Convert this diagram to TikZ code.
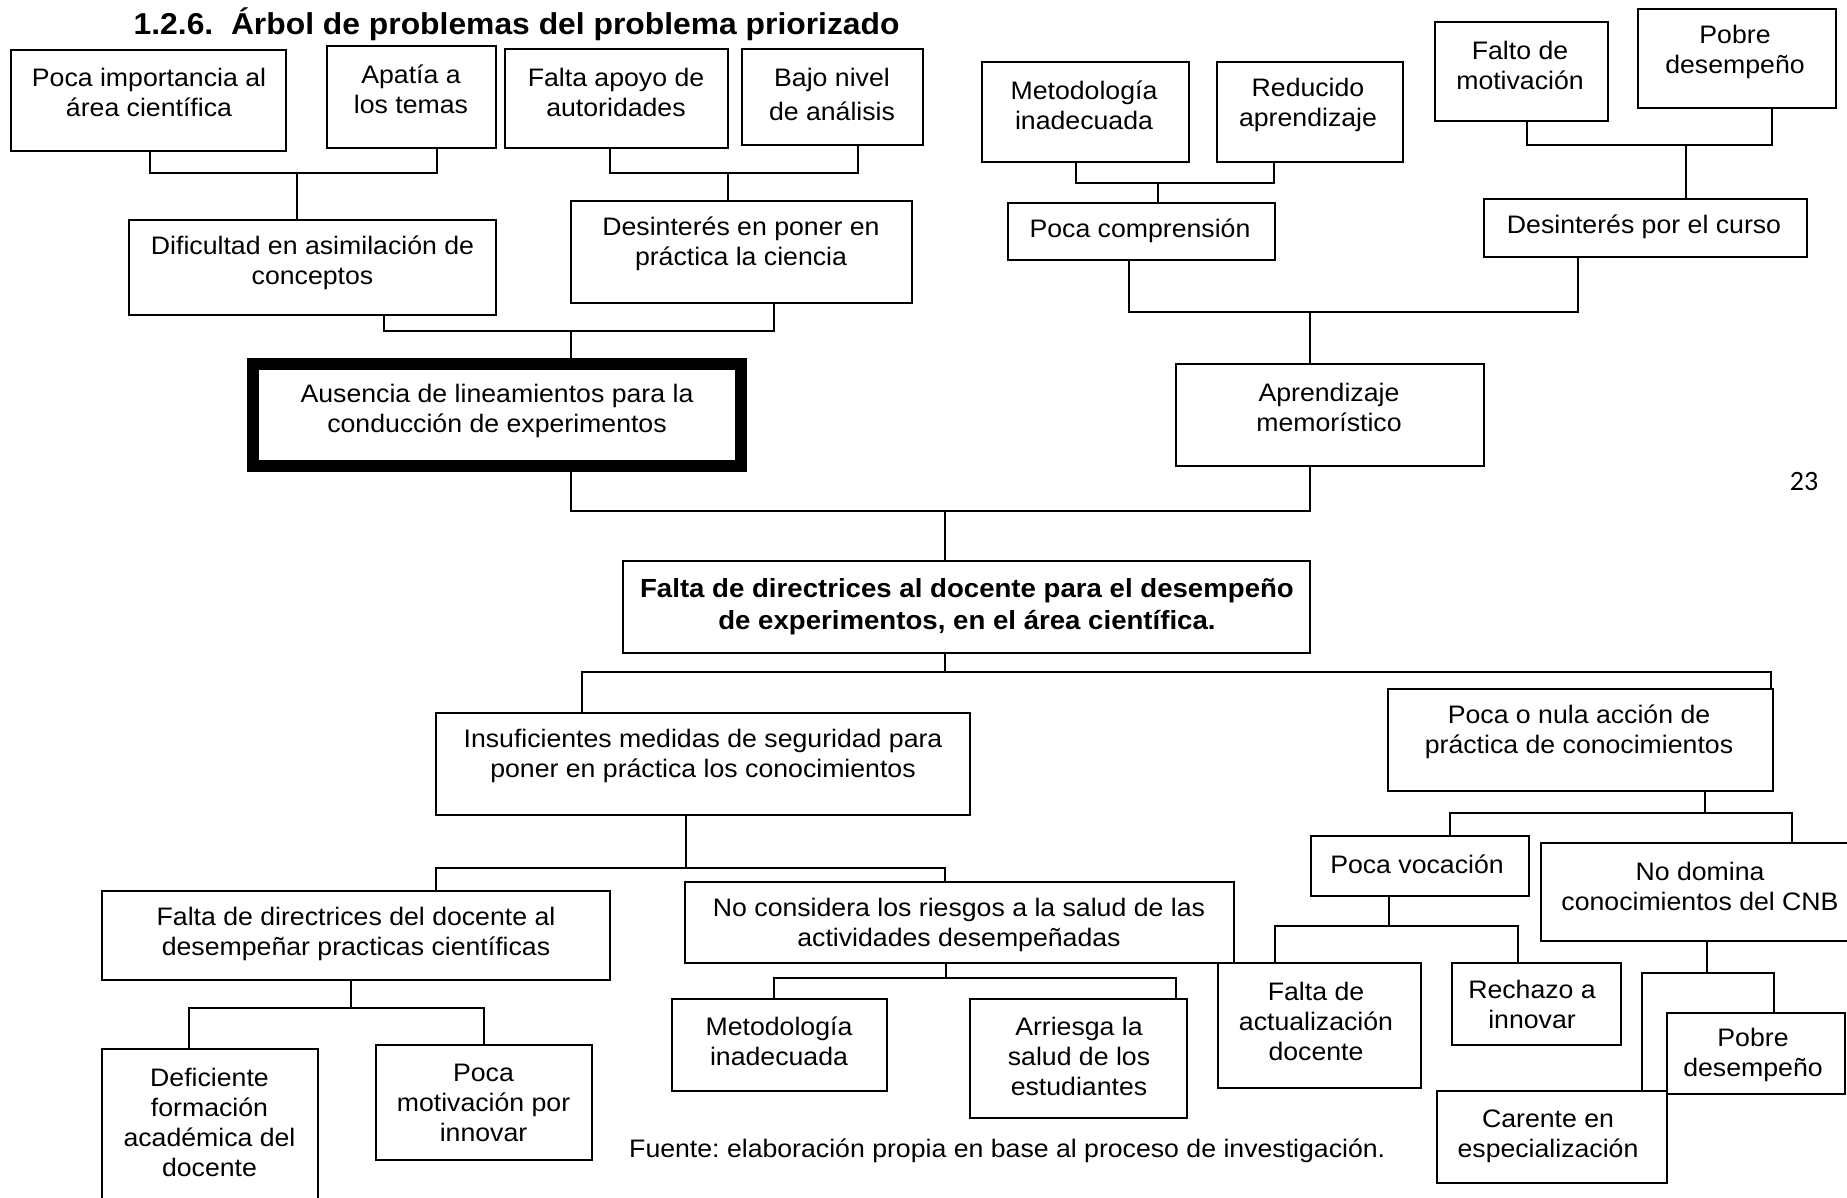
\documentclass[tikz,border=0pt]{standalone}
\usepackage{fontspec}
\setmainfont{Liberation Sans}[FakeStretch=1.054]
\newfontfamily\calfont{Carlito}
\frenchspacing
\tikzset{
  box/.style={draw=black, line width=2.2pt, inner sep=0pt, outer sep=0pt},
  thickbox/.style={draw=black, line width=12pt, inner sep=0pt, outer sep=0pt},
  txt/.style={align=center, inner sep=0pt, font=\fontsize{25.3}{30}\selectfont},
  roottxt/.style={align=center, inner sep=0pt, font=\fontsize{26.2}{32}\selectfont\bfseries},
  conn/.style={draw=black, line width=2pt},
}
\newcommand\bx[6][]{\node[box,#1,minimum width={(#4-#2)*1pt},minimum height={(#5-#3)*1pt}] (#6) at ({(#2+#4)/2},{(#3+#5)/2}) {};}
\begin{document}
\begin{tikzpicture}[x=1pt,y=-1pt]
\clip (0,0) rectangle (1847,1198);
\fill[white] (0,0) rectangle (1847,1198);

% title
\node[anchor=base west, inner sep=0pt, font=\fontsize{30.2}{36}\selectfont\bfseries] (title) at (133.5,35) {1.2.6.\ \ Árbol de problemas del problema priorizado};

% boxes
\bx{11}{50}{286}{151}{b1}
\bx{327}{46}{496}{148}{b2}
\bx{505}{49}{728}{148}{b3}
\bx{742}{49}{923}{145}{b4}
\bx{129}{220}{496}{315}{b5}
\bx{571}{201}{912}{303}{b6}
\bx[thickbox]{253}{364}{741}{466}{b7}
\bx{982}{62}{1189}{162}{b8}
\bx{1217}{62}{1403}{162}{b9}
\bx{1008}{203}{1275}{260}{b10}
\bx{1435}{22}{1608}{121}{b11}
\bx{1638}{9}{1836}{108}{b12}
\bx{1484}{199}{1807}{257}{b13}
\bx{1176}{364}{1484}{466}{b14}
\bx{623}{561}{1310}{653}{root}
\bx{436}{713}{970}{815}{b15}
\bx{1388}{689}{1773}{791}{b16}
\bx{102}{891}{610}{980}{b17}
\bx{685}{882}{1234}{963}{b18}
\bx{102}{1049}{318}{1215}{b19}
\bx{376}{1045}{592}{1160}{b20}
\bx{672}{999}{887}{1091}{b21}
\bx{970}{999}{1187}{1118}{b22}
\bx{1311}{836}{1529}{896}{b23}
\bx{1541}{843}{1860}{941}{b24}
\bx{1218}{963}{1421}{1088}{b25}
\bx{1452}{963}{1621}{1045}{b26}
\bx{1437}{1091}{1667}{1183}{b27}
\bx{1667}{1013}{1845}{1094}{b28}

% texts
\node[txt] (b1t) at (149,92) {Poca importancia al\\área científica};
\node[txt] (b2t) at (411,89) {Apatía a\\los temas};
\node[txt] (b3t) at (616,92) {Falta apoyo de\\autoridades};
\node[txt, font=\fontsize{25.3}{34}\selectfont] (b4t) at (832,94) {Bajo nivel\\de análisis};
\node[txt] (b5t) at (312.5,263) {Dificultad en asimilación de\\conceptos};
\node[txt] (b6t) at (741,244) {Desinterés en poner en\\práctica la ciencia};
\node[txt] (b7t) at (497,411) {Ausencia de lineamientos para la\\conducción de experimentos};
\node[txt] (b8t) at (1084,105) {Metodología\\inadecuada};
\node[txt] (b9t) at (1308,105) {Reducido\\aprendizaje};
\node[txt] (b10t) at (1140,231) {Poca comprensión};
\node[txt] (b11t) at (1520,65) {Falto de\\motivación};
\node[txt] (b12t) at (1735,52) {Pobre\\desempeño};
\node[txt] (b13t) at (1644,227) {Desinterés por el curso};
\node[txt] (b14t) at (1329,407) {Aprendizaje\\memorístico};
\node[roottxt] (roott) at (967,607) {Falta de directrices al docente para el desempeño\\de experimentos, en el área científica.};
\node[txt] (b15t) at (703,756) {Insuficientes medidas de seguridad para\\poner en práctica los conocimientos};
\node[txt] (b16t) at (1579,732) {Poca o nula acción de\\práctica de conocimientos};
\node[txt] (b17t) at (356,934) {Falta de directrices del docente al\\desempeñar practicas científicas};
\node[txt] (b18t) at (959,925) {No considera los riesgos a la salud de las\\actividades desempeñadas};
\node[txt] (b19t) at (209.5,1122) {Deficiente\\formación\\académica del\\docente};
\node[txt] (b20t) at (483.5,1103) {Poca\\motivación por\\innovar};
\node[txt] (b21t) at (779,1041) {Metodología\\inadecuada};
\node[txt] (b22t) at (1079,1056) {Arriesga la\\salud de los\\estudiantes};
\node[txt] (b23t) at (1417,864) {Poca vocación};
\node[txt] (b24t) at (1700,886) {No domina\\conocimientos del CNB};
\node[txt] (b25t) at (1316,1021) {Falta de\\actualización\\docente};
\node[txt] (b26t) at (1532,1004) {Rechazo a\\innovar};
\node[txt] (b27t) at (1548,1136) {Carente en\\especialización};
\node[txt] (b28t) at (1753,1055) {Pobre\\desempeño};

\node[txt, anchor=base west] (fuente) at (629,1157) {Fuente: elaboración propia en base al proceso de investigación.};
\node[inner sep=0pt, font=\calfont\fontsize{28}{32}\selectfont] (pagenum) at (1804,482) {23};

% connectors
\coordinate (j1) at (296.6,173);
\draw[conn] (b1.south -| 150,0) |- (j1) -| (b2.south -| 436.5,0);
\draw[conn] (j1) -- (j1 |- b5.north);
\coordinate (j2) at (727.8,173);
\draw[conn] (b3.south -| 609.7,0) |- (j2) -| (b4.south -| 858.2,0);
\draw[conn] (j2) -- (j2 |- b6.north);
\coordinate (j3) at (570.6,331);
\draw[conn] (b5.south -| 384.3,0) |- (j3) -| (b6.south -| 774,0);
\draw[conn] (j3) -- (j3 |- b7.north);
\coordinate (j4) at (1157.8,182.7);
\draw[conn] (b8.south -| 1076,0) |- (j4) -| (b9.south -| 1274,0);
\draw[conn] (j4) -- (j4 |- b10.north);
\coordinate (j5) at (1686.3,145);
\draw[conn] (b11.south -| 1526.8,0) |- (j5) -| (b12.south -| 1772.3,0);
\draw[conn] (j5) -- (j5 |- b13.north);
\coordinate (j6) at (1309.7,312);
\draw[conn] (b10.south -| 1129.4,0) |- (j6) -| (b13.south -| 1578.4,0);
\draw[conn] (j6) -- (j6 |- b14.north);
\coordinate (j7) at (945,511);
\draw[conn] (b7.south -| 570.6,0) |- (j7) -| (b14.south -| 1309.7,0);
\draw[conn] (j7) -- (j7 |- root.north);
\coordinate (j8) at (945,672);
\draw[conn] (root.south -| j8) -- (j8);
\draw[conn] (b15.north -| 582.4,0) |- (j8) -| (b16.north -| 1771,0);
\coordinate (j9) at (686.2,868);
\draw[conn] (b15.south -| j9) -- (j9);
\draw[conn] (b17.north -| 436,0) |- (j9) -| (b18.north -| 945,0);
\coordinate (j10) at (350.5,1008);
\draw[conn] (b17.south -| j10) -- (j10);
\draw[conn] (b19.north -| 189,0) |- (j10) -| (b20.north -| 484,0);
\coordinate (j11) at (945.5,978);
\draw[conn] (b18.south -| j11) -- (j11);
\draw[conn] (b21.north -| 774,0) |- (j11) -| (b22.north -| 1175.5,0);
\coordinate (j12) at (1705,813);
\draw[conn] (b16.south -| j12) -- (j12);
\draw[conn] (b23.north -| 1450,0) |- (j12) -| (b24.north -| 1792,0);
\coordinate (j13) at (1389,926);
\draw[conn] (b23.south -| j13) -- (j13);
\draw[conn] (b25.north -| 1275,0) |- (j13) -| (b26.north -| 1518,0);
\coordinate (j14) at (1707,973);
\draw[conn] (b24.south -| j14) -- (j14);
\draw[conn] (b27.north -| 1642,0) |- (j14) -| (b28.north -| 1774,0);
\end{tikzpicture}
\end{document}
